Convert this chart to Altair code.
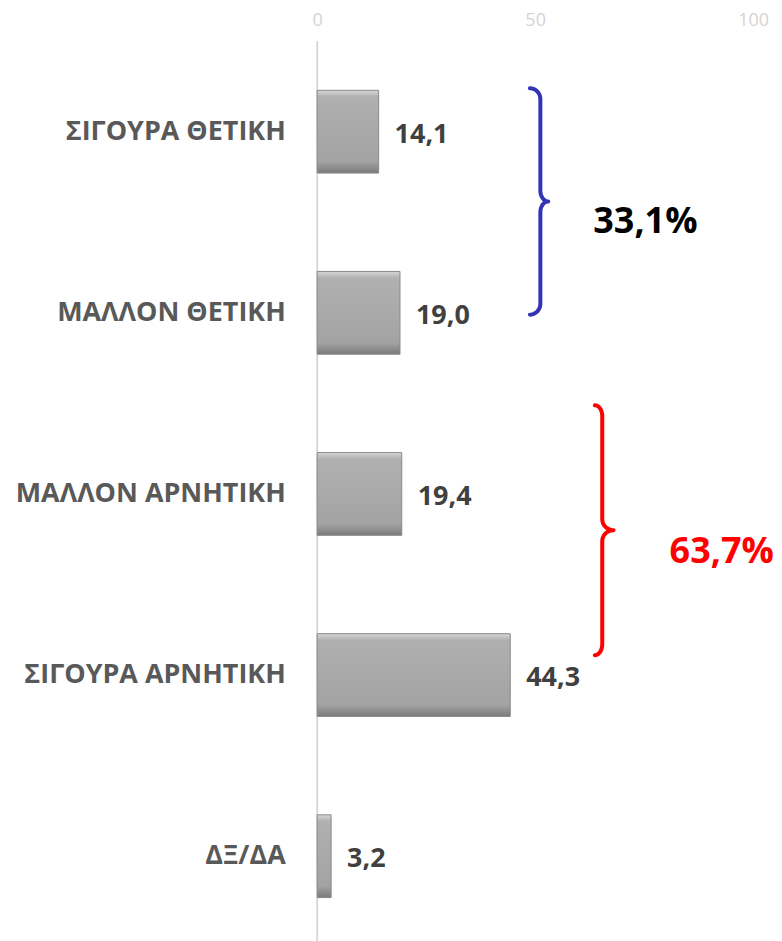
import math
import altair as alt
import pandas as pd

# ---- data ----
categories = ["ΣΙΓΟΥΡΑ ΘΕΤΙΚΗ", "ΜΑΛΛΟΝ ΘΕΤΙΚΗ", "ΜΑΛΛΟΝ ΑΡΝΗΤΙΚΗ", "ΣΙΓΟΥΡΑ ΑΡΝΗΤΙΚΗ", "ΔΞ/ΔΑ"]
values = [14.1, 19.0, 19.4, 44.3, 3.2]
value_labels = ["14,1", "19,0", "19,4", "44,3", "3,2"]
x_ticks = [0, 50, 100]

group_labels = ["33,1%", "63,7%"]
group_colors = ["#000000", "#ff0000"]
brace_colors = ["#3333b5", "#ff0000"]
# brace geometry in data units (x: value axis, y: row units, 0 = top)
brace_line_x = [51.2, 65.4]
brace_end_x = [48.8, 63.7]
brace_tip_x = [53.0, 68.0]
brace_top_y = [0.26, 2.01]
brace_bot_y = [1.51, 3.39]
group_label_x = [75.3, 92.8]
group_label_y = [1.0, 2.82]

FONT = "Open Sans"

df = pd.DataFrame({"cat": categories, "value": values, "label": value_labels})


def brace_points(xl, xe, xt, yt, yb, ry, n=8):
    ym = (yt + yb) / 2
    pts = []
    for k in range(n + 1):
        a = -math.pi / 2 + k * (math.pi / 2) / n
        pts.append((xe + (xl - xe) * math.cos(a), yt + ry + ry * math.sin(a)))
    for k in range(n + 1):
        a = k * (math.pi / 2) / n
        pts.append((xt - (xt - xl) * math.cos(a), ym - ry + ry * math.sin(a)))
    for k in range(n + 1):
        a = math.pi / 2 - k * (math.pi / 2) / n
        pts.append((xt - (xt - xl) * math.cos(a), ym + ry - ry * math.sin(a)))
    for k in range(n + 1):
        a = k * (math.pi / 2) / n
        pts.append((xe + (xl - xe) * math.cos(a), yb - ry + ry * math.sin(a)))
    return pts


rows = []
for g in range(2):
    pts = brace_points(brace_line_x[g], brace_end_x[g], brace_tip_x[g],
                       brace_top_y[g], brace_bot_y[g], 0.06)
    for i, (px, py) in enumerate(pts):
        rows.append({"g": g, "ord": i, "bx": px, "by": py, "col": brace_colors[g]})
brace_df = pd.DataFrame(rows)

glabel_df = pd.DataFrame({"gx": group_label_x, "gy": group_label_y,
                          "t": group_labels, "col": group_colors})

H = 908
W = 437

xscale = alt.Scale(domain=[0, 100])
yband = alt.Scale(paddingInner=0.543, paddingOuter=0.2715)
yq = alt.Scale(domain=[0, 5], reverse=True, nice=False, zero=False)

grad = alt.Gradient(
    gradient="linear",
    stops=[
        alt.GradientStop(offset=0, color="#d6d6d6"),
        alt.GradientStop(offset=0.08, color="#b0b0b0"),
        alt.GradientStop(offset=0.86, color="#a3a3a3"),
        alt.GradientStop(offset=1, color="#7a7a7a"),
    ],
    x1=0, x2=0, y1=0, y2=1,
)

zero_rule = alt.Chart(pd.DataFrame({"z": [0]})).mark_rule(
    color="#d9d9d9", strokeWidth=2
).encode(x=alt.X("z:Q", scale=xscale))

bars = alt.Chart(df).mark_bar(
    color=grad, stroke="#8a8a8a", strokeWidth=1
).encode(
    y=alt.Y("cat:N", sort=categories, scale=yband, title=None,
            axis=alt.Axis(domain=False, ticks=False, labelPadding=32,
                          labelFont=FONT, labelFontSize=27, labelFontWeight="bold",
                          labelColor="#595959", labelLimit=400)),
    x=alt.X("value:Q", scale=xscale, title=None,
            axis=alt.Axis(orient="top", values=x_ticks, domain=False, ticks=False,
                          grid=False, labelPadding=12, labelFont=FONT,
                          labelFlush=False, labelFontSize=18, labelColor="#d4d4d4")),
)

vlabels = alt.Chart(df).mark_text(
    align="left", baseline="middle", dx=16, dy=3,
    font=FONT, fontSize=27, fontWeight="bold", color="#404040"
).encode(
    y=alt.Y("cat:N", sort=categories, scale=yband),
    x=alt.X("value:Q", scale=xscale),
    text="label:N",
)

braces = alt.Chart(brace_df).mark_line(
    strokeWidth=4, strokeCap="round", strokeJoin="round"
).encode(
    x=alt.X("bx:Q", scale=xscale),
    y=alt.Y("by:Q", scale=yq, axis=None),
    detail="g:N",
    order="ord:Q",
    color=alt.Color("col:N", scale=None),
)

glabels = alt.Chart(glabel_df).mark_text(
    align="center", baseline="middle", font=FONT, fontSize=36, fontWeight="bold"
).encode(
    x=alt.X("gx:Q", scale=xscale),
    y=alt.Y("gy:Q", scale=yq, axis=None),
    text="t:N",
    color=alt.Color("col:N", scale=None),
)

main = alt.layer(zero_rule, bars, vlabels)
annot = alt.layer(braces, glabels)

chart = alt.layer(main, annot).resolve_scale(
    y="independent"
).properties(
    width=W, height=H,
    autosize=alt.AutoSizeParams(type="none"),
    padding={"left": 310, "top": 32, "right": 21, "bottom": 0},
).configure_view(stroke=None)

chart.save("out.html", embed_options={"renderer": "svg", "actions": False})
